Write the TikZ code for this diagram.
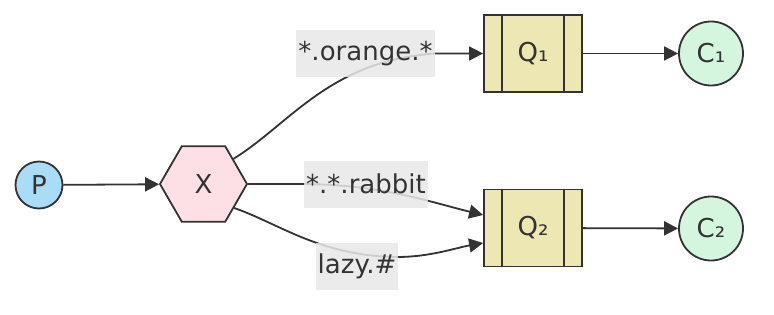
\documentclass[tikz,border=0pt]{standalone}
\usepackage{fontspec}
\setmainfont{DejaVu Sans}
\usetikzlibrary{positioning,calc,shapes.geometric,arrows.meta}
\definecolor{ink}{HTML}{333333}
\definecolor{pblue}{HTML}{A9DDF7}
\definecolor{xpink}{HTML}{FCE0E6}
\definecolor{qyellow}{HTML}{EDE8B3}
\definecolor{cgreen}{HTML}{D4F6DF}
\definecolor{lblgray}{HTML}{E8E8E8}

\begin{document}
\begin{tikzpicture}[x=1pt,y=1pt,font=\fontsize{26}{30}\selectfont,text=ink,
  circ/.style={circle,draw=ink,line width=1.8pt,inner sep=0pt},
  qbox/.style={draw=ink,line width=1.8pt,fill=qyellow,minimum width=98pt,minimum height=77pt,
    path picture={\draw[ink,line width=1.8pt] ([xshift=18pt]path picture bounding box.north west) -- ([xshift=18pt]path picture bounding box.south west);
      \draw[ink,line width=1.8pt] ([xshift=-18pt]path picture bounding box.north east) -- ([xshift=-18pt]path picture bounding box.south east);}},
  edge/.style={draw=ink,line width=1.8pt,-{Triangle[length=14pt,width=14pt]}},
  lbl/.style={fill=lblgray,fill opacity=0.85,text opacity=1,inner xsep=2pt,minimum height=47pt}]
\useasboundingbox (0,0) rectangle (774,314);
\node[circ,fill=pblue,minimum size=47pt] (p) at (39,129) {P};
\node[regular polygon,regular polygon sides=6,draw=ink,line width=1.8pt,fill=xpink,minimum size=87pt,inner sep=0pt] (x) at (203.5,130) {X};
\node[qbox] (q1) at (533,260.5) {Q₁};
\node[qbox] (q2) at (533,86) {Q₂};
\node[circ,fill=cgreen,minimum size=64pt] (c1) at (711,260.5) {C₁};
\node[circ,fill=cgreen,minimum size=64pt] (c2) at (711,85.5) {C₂};
\coordinate (lo) at (365.5,260.5);
\coordinate (lr) at (366,130);
\coordinate (lz) at (357,47.5);
\draw[edge] (p) -- (x);
\draw[edge] (x.40) .. controls (290,190) and (330,254) .. ($(lo)+(70.5,0)$) -- (q1);
\draw[edge] (x.east) -- ($(lr)+(-66,0)$) .. controls (380,130) and (430,112) .. ([yshift=13pt]q2.west);
\draw[edge] (x.-38) .. controls (280,90) and (320,58) .. ($(lz)+(40,9.5)$) .. controls (430,57) and (455,66) .. ([yshift=-15pt]q2.west);
\draw[edge] (q1) -- (c1);
\draw[edge] (q2) -- (c2);
\node[lbl] (orange) at (lo) {*.orange.*};
\node[lbl] (rabbit) at (lr) {*.*.rabbit};
\node[lbl] (lazy) at (lz) {lazy.\#};
\end{tikzpicture}
\end{document}
